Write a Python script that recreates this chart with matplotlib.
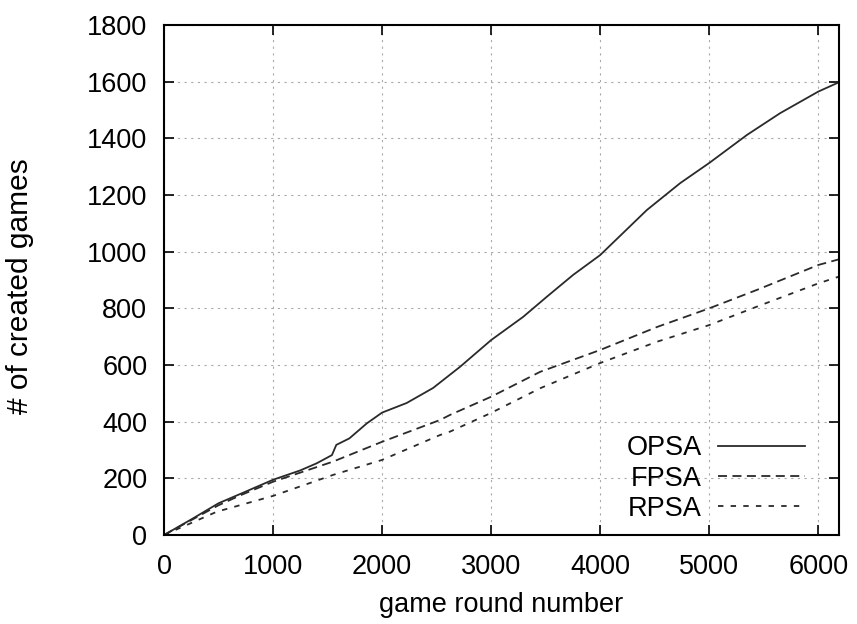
import matplotlib as mpl
mpl.use('Agg')
import matplotlib.pyplot as plt

plt.rcParams['font.family'] = ['Liberation Sans', 'DejaVu Sans']

# curves
opsa_x = [0, 250, 500, 700, 1000, 1250, 1400, 1540, 1580, 1700, 1860, 2000, 2226,
          2468, 2716, 3000, 3294, 3511, 3752, 4000, 4428, 4734, 5000, 5346, 5651, 6000, 6190]
opsa_y = [0, 55, 112, 145, 195, 228, 253, 282, 318, 341, 394, 432, 466,
          519, 594, 688, 770, 841, 918, 988, 1147, 1242, 1313, 1412, 1489, 1565, 1598]

fpsa_x = [0, 500, 700, 1000, 1550, 2000, 2532, 2624, 3000, 3450, 4000, 4520, 5000, 5437, 6000, 6190]
fpsa_y = [0, 105, 140, 188, 259, 329, 406, 424, 488, 576, 653, 734, 800, 865, 953, 973]

rpsa_x = [0, 483, 1000, 1550, 2000, 2532, 2624, 3000, 3450, 4000, 4520, 5000, 5437, 6000, 6190]
rpsa_y = [0, 82, 138, 212, 265, 353, 365, 431, 518, 607, 682, 741, 806, 888, 912]

x_ticks = [0, 1000, 2000, 3000, 4000, 5000, 6000]
y_ticks = [0, 200, 400, 600, 800, 1000, 1200, 1400, 1600, 1800]

fs = 19.5
line_color = "#2a2a2a"

fig = plt.figure(figsize=(8.57, 6.24), dpi=100)
ax = fig.add_axes([164/857, 1-535/624, (839-164)/857, (535-25)/624])

ax.plot(opsa_x, opsa_y, color=line_color, lw=1.3, label="OPSA")
ax.plot(fpsa_x, fpsa_y, color=line_color, lw=1.3, dashes=(5, 3), label="FPSA")
ax.plot(rpsa_x, rpsa_y, color=line_color, lw=1.3, dashes=(3, 4), label="RPSA")

ax.set_xlim(0, 6190)
ax.set_ylim(0, 1800)
ax.set_xticks(x_ticks)
ax.set_yticks(y_ticks)
ax.grid(True, color="#aaaaaa", linestyle=(0, (2, 4)), linewidth=0.8)

ax.tick_params(axis='both', which='major', direction='in', length=7, width=1.2,
               labelsize=fs, top=True, right=True)
ax.tick_params(axis='x', pad=14)
ax.tick_params(axis='y', pad=12)
for s in ax.spines.values():
    s.set_linewidth(1.5)

ax.set_xlabel("game round number", fontsize=fs, labelpad=8)
ax.set_ylabel("# of created games", fontsize=21.5)
ax.yaxis.set_label_coords(-0.1926, 0.488)

leg = ax.legend(loc='lower right', frameon=False, markerfirst=False, fontsize=fs,
                handlelength=3.2, handletextpad=0.6, labelspacing=0.15,
                borderaxespad=0.0, bbox_to_anchor=(0.965, 0.005))

fig.savefig("out.png", dpi=100)
plt.close()
